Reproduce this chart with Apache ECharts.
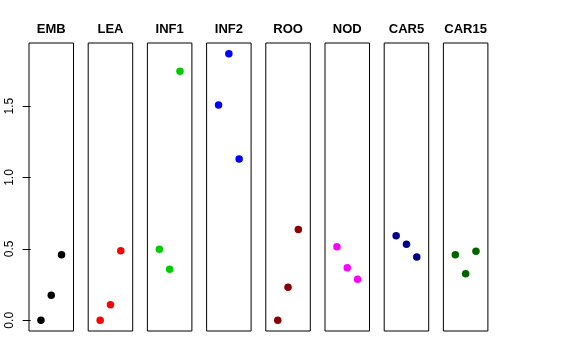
<!DOCTYPE html>
<html><head><meta charset="utf-8">
<script src="https://cdn.jsdelivr.net/npm/echarts@6/dist/echarts.min.js"></script>
<style>html,body{margin:0;padding:0;background:#fff}#c{width:576px;height:360px}</style>
</head><body><div id="c"></div>
<script>
const panels = ['EMB','LEA','INF1','INF2','ROO','NOD','CAR5','CAR15'];
const colors = ['#000000','#FF0000','#00CD00','#0000FF','#8B0000','#FF00FF','#00008B','#006400'];
const xPos = [1, 2, 3];
const values = {
  EMB:   [0.000, 0.175, 0.459],
  LEA:   [0.000, 0.109, 0.487],
  INF1:  [0.497, 0.357, 1.744],
  INF2:  [1.508, 1.867, 1.130],
  ROO:   [0.000, 0.231, 0.635],
  NOD:   [0.515, 0.368, 0.287],
  CAR5:  [0.592, 0.532, 0.443],
  CAR15: [0.459, 0.326, 0.483]
};
const yTicks = [0, 0.5, 1, 1.5];
const yTickLabels = ['0.0', '0.5', '1.0', '1.5'];

const FONT = 'Liberation Sans, Arial, Helvetica, sans-serif';
const left0 = 29, step = 59.2, pw = 44.5, gTop = 43, ph = 288;
const yMin = -0.075, yMax = 1.942, xMin = -0.16, xMax = 4.16;

const grid = [], xAxis = [], yAxis = [], series = [], graphic = [];
panels.forEach((p, i) => {
  const l = left0 + i * step;
  grid.push({left: l, top: gTop, width: pw, height: ph, show: true, borderColor: '#000', borderWidth: 1, backgroundColor: 'transparent'});
  xAxis.push({gridIndex: i, type: 'value', min: xMin, max: xMax, show: false});
  yAxis.push({
    gridIndex: i, type: 'value', min: yMin, max: yMax,
    splitLine: {show: false},
    axisLine: {show: false},
    axisTick: {show: i === 0, length: 8, lineStyle: {color: '#000'}, customValues: yTicks},
    axisLabel: {show: i === 0, rotate: 90, margin: 13, fontSize: 12, color: '#000', fontFamily: FONT,
      customValues: yTicks, formatter: v => { const k = yTicks.findIndex(t => Math.abs(t - v) < 1e-6); return k >= 0 ? yTickLabels[k] : ''; }}
  });
  series.push({
    type: 'scatter', xAxisIndex: i, yAxisIndex: i, symbol: 'circle', symbolSize: 7.5,
    itemStyle: {color: colors[i], opacity: 1}, silent: true,
    data: xPos.map((x, k) => [x, values[p][k]])
  });
  graphic.push({type: 'text', x: l + pw / 2, y: 29.5, style: {text: p, fill: '#000', font: 'bold 13px ' + FONT, textAlign: 'center', textVerticalAlign: 'middle'}});
});

const chart = echarts.init(document.getElementById('c'), null, {renderer: 'canvas'});
chart.setOption({animation: false, grid, xAxis, yAxis, series, graphic});
</script></body></html>
